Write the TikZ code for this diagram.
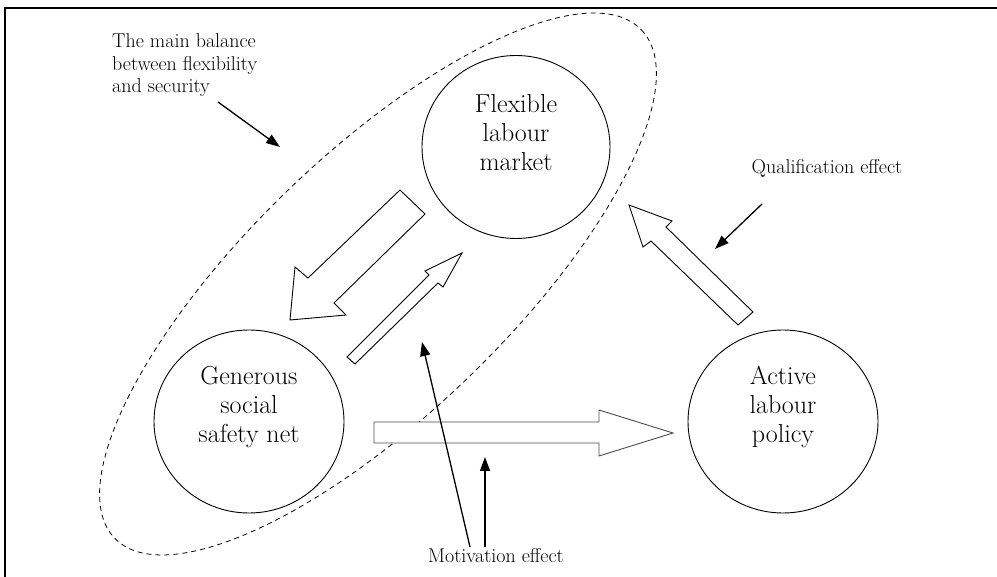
\documentclass[tikz,border=0pt]{standalone}
\usetikzlibrary{shapes.geometric,arrows.meta}
\begin{document}
\begin{tikzpicture}[x=1pt,y=-1pt,
  bubble/.style={draw, ellipse, line width=0.9pt, inner sep=0pt, minimum width=190pt, minimum height=183pt},
  bubtext/.style={align=center, font=\fontsize{26}{29}\selectfont, inner sep=0pt},
  note/.style={font=\fontsize{20}{22.5}\selectfont, inner sep=0pt},
  blockarrow/.style={draw, line width=0.9pt, line join=miter, fill=white},
  pointer/.style={line width=1.3pt, -{Triangle[length=14pt,width=10pt]}},
  enclosure/.style={draw, dash pattern=on 5pt off 4pt, line width=0.8pt}]
\useasboundingbox (0,0) rectangle (997,577);
\draw[line width=1.5pt] (5,577) -- (5,8) -- (997,8);

% dashed enclosure
\draw[enclosure, rotate around={44:(378,284)}] (378,284) ellipse [x radius=366, y radius=130];

% circles
\node[bubble, minimum width=188pt] (flex) at (516,147) {};
\node[bubble] (gen) at (249,421.5) {};
\node[bubble] (act) at (783,421.5) {};
\node[bubtext] (flext) at (516,133) {Flexible\\labour\\market};
\node[bubtext] (gent) at (249,407) {Generous\\social\\safety net};
\node[bubtext] (actt) at (783,407) {Active\\labour\\policy};

% block arrows
\draw[blockarrow] (400,190) -- (308,278) -- (295,267) -- (290,320) -- (346,315) -- (334,303) -- (425,214) -- cycle;
\draw[blockarrow] (347,357) -- (429,275) -- (425,271) -- (462,253) -- (443,287) -- (438,283) -- (355,364) -- cycle;
\draw[blockarrow] (753,312) -- (666,227) -- (672,221) -- (629,205) -- (643,247) -- (651,241) -- (738,325) -- cycle;
\draw[blockarrow, draw=black!70] (374,422) -- (599,422) -- (599,410) -- (673,433) -- (599,456) -- (599,443) -- (374,443) -- cycle;

% notes
\node[note, align=left, anchor=north west] (bal) at (112,33.5) {The main balance\\between flexibility\\and security};
\node[note, anchor=base] (qual) at (827,174) {Qualification effect};
\node[note, anchor=base] (mot) at (496,562) {Motivation effect};

% pointers
\coordinate (b1) at (218,102); \coordinate (b2) at (280,147);
\coordinate (q1) at (762,204); \coordinate (q2) at (715,249);
\coordinate (m1) at (470,547); \coordinate (m2) at (422,342);
\coordinate (n1) at (485,547); \coordinate (n2) at (485,457);
\draw[pointer] (b1) -- (b2);
\draw[pointer] (q1) -- (q2);
\draw[pointer] (m1) -- (m2);
\draw[pointer] (n1) -- (n2);
\end{tikzpicture}
\end{document}
